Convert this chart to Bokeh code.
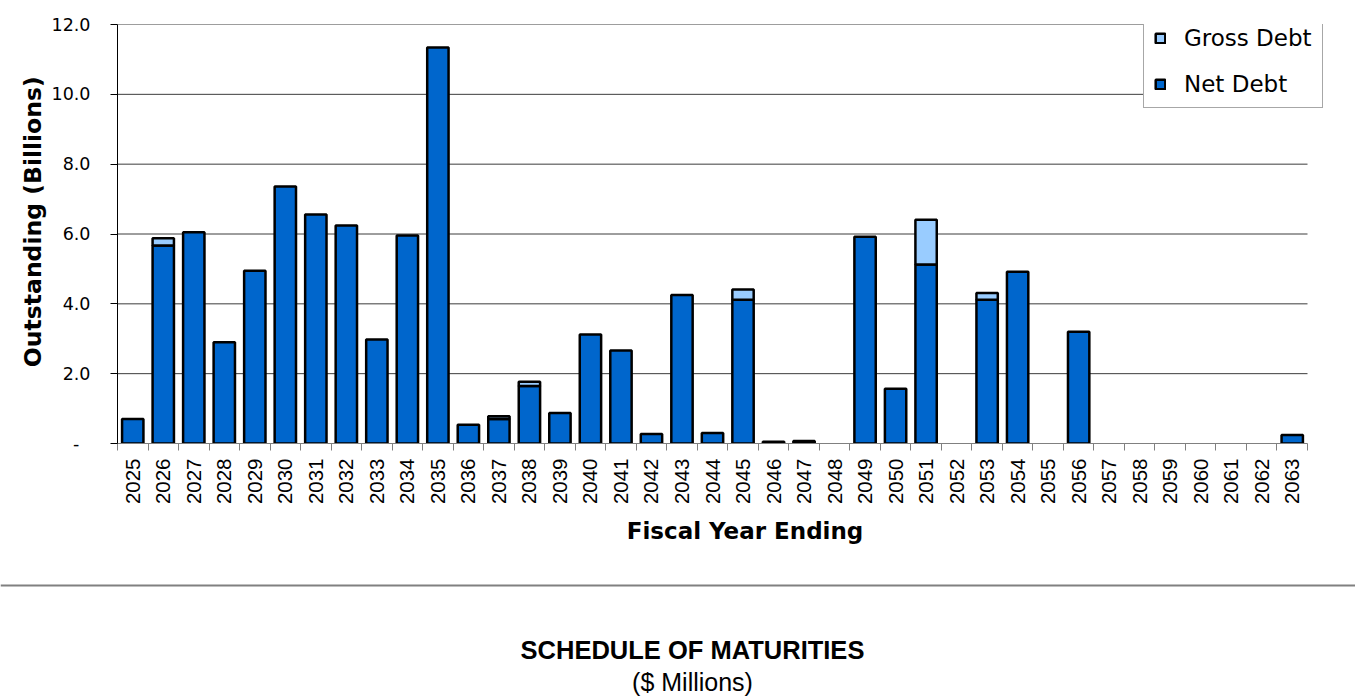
import math
from bokeh.plotting import figure
from bokeh.models import (ColumnDataSource, Range1d, FixedTicker, CustomJSTickFormatter,
                          Legend, LegendItem, Span, Label)
from bokeh.layouts import column, row
from bokeh.embed import file_html
from bokeh.resources import INLINE

# ---- data (billions) ----
years = list(range(2025, 2064))
net_debt = [0.70, 5.67, 6.05, 2.90, 4.95, 7.36, 6.56, 6.24, 2.98, 5.96, 11.34,
            0.54, 0.70, 1.65, 0.87, 3.12, 2.66, 0.27, 4.25, 0.30, 4.12,
            0.05, 0.07, 0.0, 5.92, 1.57, 5.13, 0.0, 4.12, 4.92, 0.0, 3.20,
            0.0, 0.0, 0.0, 0.0, 0.0, 0.0, 0.24]
gross_debt = [0.70, 5.88, 6.05, 2.90, 4.95, 7.36, 6.56, 6.24, 2.98, 5.96, 11.34,
              0.54, 0.78, 1.77, 0.87, 3.12, 2.66, 0.27, 4.25, 0.30, 4.41,
              0.05, 0.07, 0.0, 5.92, 1.57, 6.41, 0.0, 4.31, 4.92, 0.0, 3.20,
              0.0, 0.0, 0.0, 0.0, 0.0, 0.0, 0.24]
y_ticks = [0, 2, 4, 6, 8, 10, 12]

NET_COLOR = "#0066CC"
GROSS_COLOR = "#99CCFF"
NBSP = "\u00a0"

idx = list(range(len(years)))
net_src = ColumnDataSource(dict(
    x=[i for i in idx if net_debt[i] > 0],
    top=[net_debt[i] for i in idx if net_debt[i] > 0]))
gross_src = ColumnDataSource(dict(
    x=[i for i in idx if gross_debt[i] > net_debt[i]],
    bottom=[net_debt[i] for i in idx if gross_debt[i] > net_debt[i]],
    top=[gross_debt[i] for i in idx if gross_debt[i] > net_debt[i]]))

# layout in pixels
W, H1, H2 = 1355, 560, 136
LEFT, TOP, BOTTOM = 117, 24, 443
PLOT_RIGHT = 1307      # where the category axis ends
FRAME_RIGHT = 1332     # frame a bit wider so the legend is not clipped
x_lo, x_hi = -0.5, len(years) - 0.5
px_per_unit = (PLOT_RIGHT - LEFT) / (x_hi - x_lo)
x_end = x_hi + (FRAME_RIGHT - PLOT_RIGHT) / px_per_unit

p = figure(width=W, height=H1, output_backend="svg", toolbar_location=None,
           x_range=Range1d(x_lo, x_end), y_range=Range1d(0, 12),
           min_border_left=LEFT, min_border_right=W - FRAME_RIGHT,
           min_border_top=TOP, min_border_bottom=H1 - BOTTOM)
p.outline_line_color = None
p.background_fill_color = "white"
p.border_fill_color = "white"
p.xgrid.grid_line_color = None
p.ygrid.grid_line_color = None

# horizontal gridlines limited to the category span
p.segment(x0=x_lo, x1=x_hi, y0=y_ticks[1:], y1=y_ticks[1:],
          line_color="#3c3c3c", line_width=1, level="underlay")

r_net = p.vbar(x="x", top="top", bottom=0, width=0.7, source=net_src,
               fill_color=NET_COLOR, line_color="black", line_width=2.5)
r_gross = p.vbar(x="x", top="top", bottom="bottom", width=0.7, source=gross_src,
                 fill_color=GROSS_COLOR, line_color="black", line_width=2.5)

# y axis
p.yaxis.ticker = FixedTicker(ticks=y_ticks)
p.yaxis.formatter = CustomJSTickFormatter(
    code="return tick == 0 ? '-\u00a0\u00a0' : tick.toFixed(1);")
p.yaxis.axis_label = NBSP * 3 + "Outstanding (Billions)"
p.yaxis.axis_label_text_font = "DejaVu Sans"
p.yaxis.axis_label_text_font_style = "bold"
p.yaxis.axis_label_text_font_size = "23.5px"
p.yaxis.axis_label_text_color = "black"
p.yaxis.axis_label_standoff = 2
p.yaxis.major_label_text_font = "DejaVu Sans"
p.yaxis.major_label_text_font_size = "17.5px"
p.yaxis.major_label_text_color = "black"
p.yaxis.major_label_standoff = 20
p.yaxis.axis_line_color = "black"
p.yaxis.major_tick_line_color = "black"
p.yaxis.major_tick_out = 7
p.yaxis.major_tick_in = 0
p.yaxis.minor_tick_line_color = None

# x axis
p.xaxis.bounds = (x_lo, x_hi)
p.xaxis.ticker = FixedTicker(ticks=idx, minor_ticks=[i - 0.5 for i in range(len(years) + 1)])
p.xaxis.major_label_overrides = {i: str(y) for i, y in enumerate(years)}
p.xaxis.major_label_orientation = math.pi / 2
p.xaxis.major_label_text_font = "Liberation Sans"
p.xaxis.major_label_text_font_size = "20.5px"
p.xaxis.major_label_text_color = "black"
p.xaxis.major_label_standoff = 8
p.xaxis.major_tick_in = 0
p.xaxis.major_tick_out = 0
p.xaxis.minor_tick_in = 0
p.xaxis.minor_tick_out = 7
p.xaxis.minor_tick_line_color = "#808080"
p.xaxis.axis_line_color = "#808080"
p.xaxis.axis_label = NBSP * 5 + "Fiscal Year Ending"
p.xaxis.axis_label_text_font = "DejaVu Sans"
p.xaxis.axis_label_text_font_style = "bold"
p.xaxis.axis_label_text_font_size = "23px"
p.xaxis.axis_label_text_color = "black"
p.xaxis.axis_label_standoff = 11

legend = Legend(items=[LegendItem(label="Gross Debt", renderers=[r_gross]),
                       LegendItem(label="Net Debt", renderers=[r_net])],
                location=(1143 - LEFT, BOTTOM - 108), orientation="vertical",
                label_text_font="DejaVu Sans", label_text_font_size="23px",
                label_text_color="black", glyph_width=12, glyph_height=12,
                label_standoff=18, label_height=24, spacing=20, padding=10,
                margin=0, border_line_color="#505050", border_line_width=1.5,
                background_fill_color="white", background_fill_alpha=1)
p.add_layout(legend)

# ---- bottom caption figure ----
q = figure(width=W, height=H2, output_backend="svg", toolbar_location=None,
           x_range=Range1d(0, W), y_range=Range1d(H2, 0),
           x_axis_location=None, y_axis_location=None,
           min_border=0, min_border_left=0, min_border_right=0,
           min_border_top=0, min_border_bottom=0)
q.grid.visible = False
q.outline_line_color = None
q.add_layout(Span(location=25, dimension="width", line_color="#808080", line_width=2))
q.add_layout(Label(x=692, y=89, text="SCHEDULE OF MATURITIES", text_align="center",
                   text_baseline="middle", text_font="Liberation Sans",
                   text_font_style="bold", text_font_size="25.5px", text_color="black"))
q.add_layout(Label(x=692, y=121, text="($ Millions)", text_align="center",
                   text_baseline="middle", text_font="Liberation Sans",
                   text_font_size="25px", text_color="black"))

layout = column(p, row(q), spacing=0)
open("out.html", "w").write(file_html(layout, INLINE))
